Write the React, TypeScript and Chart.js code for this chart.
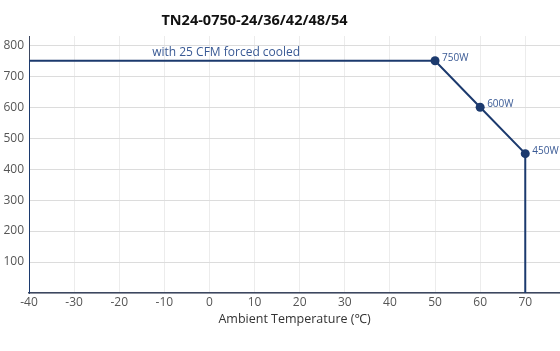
import React, { useEffect, useRef } from "react";
import { Chart, registerables } from "chart.js";

Chart.register(...registerables);

const temps = [-40, -40, 50, 60, 70, 70];
const powers = [0, 750, 750, 600, 450, 0];
const markerShown = [false, false, true, true, true, false];
const pointLabels = ["", "", "750W", "600W", "450W", ""];
const titleText = "TN24-0750-24/36/42/48/54";
const noteText = "with 25 CFM forced cooled";
const noteAt = { x: 3.7, y: 750 };
const xTitle = "Ambient Temperature (℃)";

const FONT = "'Open Sans', 'Noto Sans', sans-serif";
const LINE = "#1c3a6e";
const TEXT_BLUE = "#3a5a95";

const labelPlugin = {
  id: "pointLabels",
  afterDatasetsDraw(chart: any) {
    const { ctx, scales } = chart;
    const xs = scales.x;
    const ys = scales.y;
    ctx.save();
    ctx.font = `10px ${FONT}`;
    ctx.fillStyle = TEXT_BLUE;
    ctx.textBaseline = "middle";
    ctx.textAlign = "left";
    temps.forEach((t, i) => {
      if (!pointLabels[i]) return;
      ctx.fillText(pointLabels[i], xs.getPixelForValue(t) + 7, ys.getPixelForValue(powers[i]) - 3);
    });
    ctx.font = `12px ${FONT}`;
    ctx.textAlign = "center";
    ctx.textBaseline = "bottom";
    ctx.fillText(noteText, xs.getPixelForValue(noteAt.x), ys.getPixelForValue(noteAt.y) - 2);
    // chart title
    ctx.font = `bold 14.5px ${FONT}`;
    ctx.fillStyle = "#111";
    ctx.textBaseline = "middle";
    ctx.fillText(titleText, 254.5, 21);
    ctx.restore();
  },
};

export default function App() {
  const ref = useRef<HTMLCanvasElement>(null);
  useEffect(() => {
    if (!ref.current) return;
    const chart = new Chart(ref.current, {
      type: "line",
      data: {
        datasets: [
          {
            data: temps.map((t, i) => ({ x: t, y: powers[i] })),
            borderColor: LINE,
            backgroundColor: LINE,
            borderWidth: 2,
            pointRadius: markerShown.map((m) => (m ? 4.5 : 0)),
            pointBackgroundColor: LINE,
            pointBorderWidth: 0,
            tension: 0,
            fill: false,
          },
        ],
      },
      options: {
        responsive: false,
        animation: false,
        layout: { padding: { left: 0, right: 0, top: 36, bottom: 24 } },
        plugins: {
          legend: { display: false },
          tooltip: { enabled: false },
          title: { display: false },
        },
        scales: {
          x: {
            type: "linear",
            min: -40,
            max: 77.7,
            afterBuildTicks: (axis: any) => {
              axis.ticks = [];
              for (let v = -40; v <= 70; v += 10) axis.ticks.push({ value: v });
            },
            afterFit: (axis: any) => {
              axis.height = 34;
            },
            ticks: { color: "#555", font: { family: FONT, size: 12 }, padding: 2, maxRotation: 0 },
            grid: { color: "#ececec", drawTicks: false },
            border: { color: "#3c4760", width: 1.5 },
            title: {
              display: true,
              text: xTitle,
              color: "#333",
              font: { family: FONT, size: 12.5 },
              padding: { top: 0, bottom: 0 },
            },
          },
          y: {
            type: "linear",
            min: 0,
            max: 830,
            afterBuildTicks: (axis: any) => {
              axis.ticks = [];
              for (let v = 0; v <= 800; v += 100) axis.ticks.push({ value: v });
            },
            afterFit: (axis: any) => {
              axis.width = 29;
            },
            ticks: {
              color: "#555",
              font: { family: FONT, size: 12 },
              padding: 5,
              callback: (v: any) => (v === 0 ? "" : String(v)),
            },
            grid: { color: "#dcdcdc", drawTicks: false },
            border: { color: "#3c4760", width: 1 },
          },
        },
      },
      plugins: [labelPlugin],
    });
    return () => chart.destroy();
  }, []);
  return (
    <div style={{ position: "fixed", left: 0, top: 0, width: 560, height: 351, background: "#fff" }}>
      <canvas ref={ref} width={560} height={351} />
    </div>
  );
}
